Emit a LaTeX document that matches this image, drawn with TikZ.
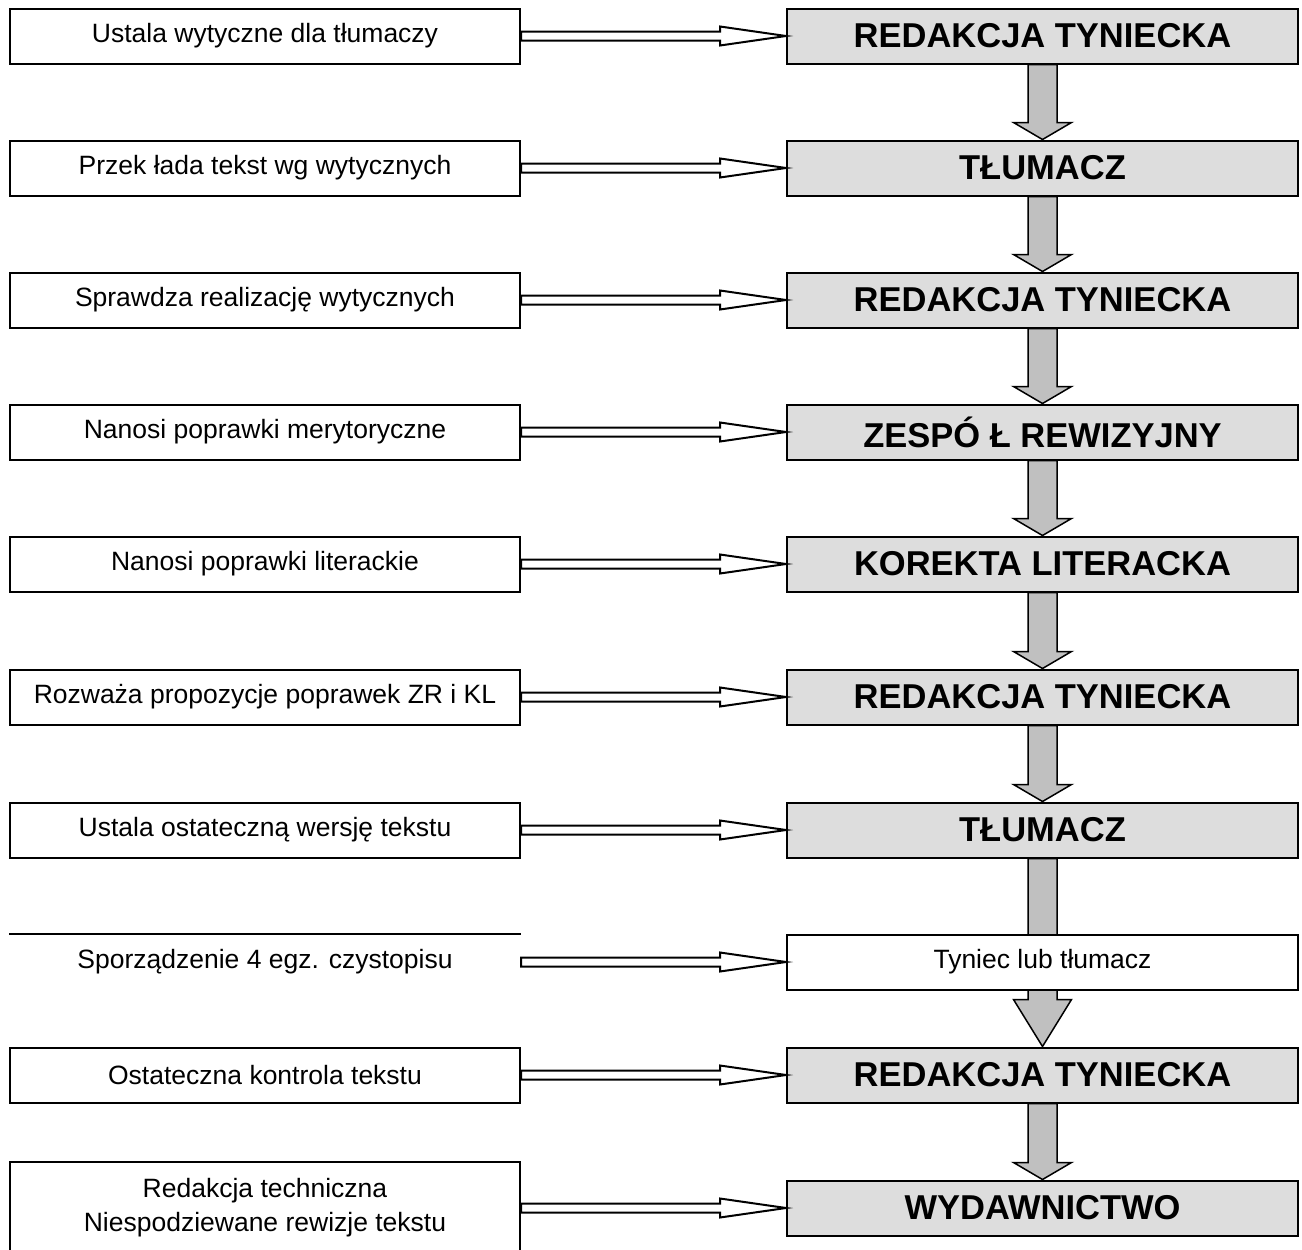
\documentclass[tikz,border=0pt]{standalone}
\usepackage{fontspec}
\setmainfont{Liberation Sans}
\usepackage{xcolor}
\usepackage{tikz}
\usetikzlibrary{calc}
\pgfdeclarelayer{background}
\pgfdeclarelayer{foreground}
\pgfsetlayers{background,main,foreground}
\definecolor{boxgray}{HTML}{DDDDDD}
\definecolor{arrowgray}{HTML}{C0C0C0}

\begin{document}
\begin{tikzpicture}[x=1pt,y=-1pt,
  task/.style={draw,line width=2pt,minimum width=510pt,minimum height=55pt,
    inner sep=0pt,align=center,font=\fontsize{26.5}{34}\selectfont},
  actor/.style={draw,line width=2pt,fill=boxgray,minimum width=511pt,
    minimum height=55pt,inner sep=0pt,font=\fontsize{34.5}{40}\selectfont\bfseries},
  hollow/.style={draw,line width=2pt,fill=white,to path={
    ($(\tikztostart)+(0,-4.5)$) -- ($(\tikztotarget)+(-66,-4.5)$)
    -- ($(\tikztotarget)+(-66,-9.5)$) -- (\tikztotarget)
    -- ($(\tikztotarget)+(-66,9.5)$) -- ($(\tikztotarget)+(-66,4.5)$)
    -- ($(\tikztostart)+(0,4.5)$) -- cycle}},
  flowdown/.style={draw,line width=1.5pt,fill=arrowgray,to path={
    ($(\tikztostart)+(-14.5,0)$) -- ($(\tikztotarget)+(-14.5,-#1)$)
    -- ($(\tikztotarget)+(-29,-#1)$) -- (\tikztotarget)
    -- ($(\tikztotarget)+(29,-#1)$) -- ($(\tikztotarget)+(14.5,-#1)$)
    -- ($(\tikztostart)+(14.5,0)$) -- cycle}},
  flowdown/.default=17]
  \useasboundingbox (0,0) rectangle (1302,1250);
  \node[task] (1l) at (265,36) {Ustala wytyczne dla tłumaczy};
  \node[task] (2l) at (265,168) {Przek łada tekst wg wytycznych};
  \node[task] (3l) at (265,300) {Sprawdza realizację wytycznych};
  \node[task] (4l) at (265,432) {Nanosi poprawki merytoryczne};
  \node[task] (5l) at (265,564) {Nanosi poprawki literackie};
  \node[task] (6l) at (265,697) {Rozważa propozycje poprawek ZR i KL};
  \node[task] (7l) at (265,830) {Ustala ostateczną wersję tekstu};
  \node[task,draw=none] (8l) at (265,962) {Sporządzenie 4 egz. czystopisu};
  \node[task] (9l) at (265,1075) {Ostateczna kontrola tekstu};
  \node[task,minimum height=92pt] (10l) at (265,1208)
    {Redakcja techniczna\\Niespodziewane rewizje tekstu};
  \draw[line width=2pt] (8l.north west) -- (8l.north east);
  \node[actor] (1r) at (1042.5,36) {REDAKCJA TYNIECKA};
  \node[actor] (2r) at (1042.5,168) {TŁUMACZ};
  \node[actor] (3r) at (1042.5,300) {REDAKCJA TYNIECKA};
  \node[actor] (4r) at (1042.5,432) {ZESPÓ Ł REWIZYJNY};
  \node[actor] (5r) at (1042.5,564) {KOREKTA LITERACKA};
  \node[actor] (6r) at (1042.5,697) {REDAKCJA TYNIECKA};
  \node[actor] (7r) at (1042.5,830) {TŁUMACZ};
  \node[task,fill=white,minimum width=511pt] (8r) at (1042.5,962) {Tyniec lub tłumacz};
  \node[actor] (9r) at (1042.5,1075) {REDAKCJA TYNIECKA};
  \node[actor] (10r) at (1042.5,1208) {WYDAWNICTWO};
  \draw[hollow] (1l.east) to (1r.west);
  \draw[hollow] (2l.east) to (2r.west);
  \draw[hollow] (3l.east) to (3r.west);
  \draw[hollow] (4l.east) to (4r.west);
  \draw[hollow] (5l.east) to (5r.west);
  \draw[hollow] (6l.east) to (6r.west);
  \draw[hollow] (7l.east) to (7r.west);
  \draw[hollow] (8l.east) to (8r.west);
  \draw[hollow] (9l.east) to (9r.west);
  \draw[hollow] (10l.east) to (10r.west);
  \draw[flowdown] (1r.south) to (2r.north);
  \draw[flowdown] (2r.south) to (3r.north);
  \draw[flowdown] (3r.south) to (4r.north);
  \draw[flowdown] (4r.south) to (5r.north);
  \draw[flowdown] (5r.south) to (6r.north);
  \draw[flowdown] (6r.south) to (7r.north);
  \begin{pgfonlayer}{background}
    \draw[flowdown=47] (7r.south) to (9r.north);
  \end{pgfonlayer}
  \draw[flowdown] (9r.south) to (10r.north);
\end{tikzpicture}
\end{document}
